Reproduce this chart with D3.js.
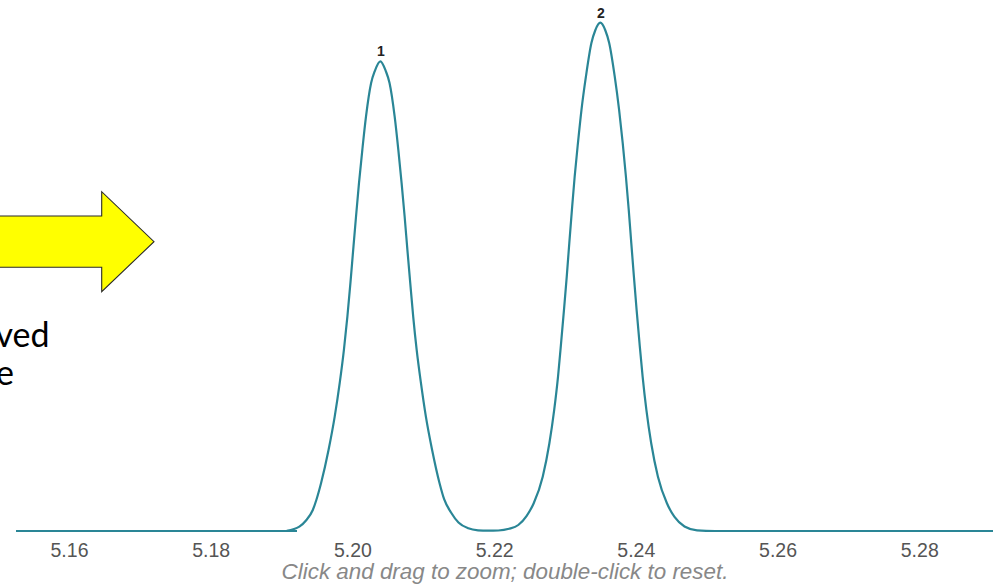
<!DOCTYPE html>
<html>
<head>
<meta charset="utf-8">
<script src="https://cdn.jsdelivr.net/npm/d3@7"></script>
<style>
  html, body { margin: 0; padding: 0; background: #fff; }
  svg { display: block; }
</style>
</head>
<body>
<svg id="chart" width="999" height="584"></svg>
<script>
// Flat baseline trace preceding the peaks (retention time, relative intensity %)
const baseX = [5.15252, 5.19218];
const baseY = [0, 0];

// Chromatogram trace: retention time (min) and relative intensity (%)
const traceX = [
  5.19073, 5.19251, 5.19345, 5.19441, 5.19493, 5.19558, 5.19663, 5.19750, 5.19821,
  5.19880, 5.19929, 5.19972, 5.20011, 5.20051, 5.20093, 5.20140, 5.20192, 5.20264,
  5.20316, 5.20394, 5.20471, 5.20524, 5.20596, 5.20648, 5.20694, 5.20737, 5.20776,
  5.20816, 5.20858, 5.20907, 5.20967, 5.21037, 5.21125, 5.21229, 5.21296, 5.21392,
  5.21497, 5.21636, 5.21773, 5.21914, 5.22059, 5.22210, 5.22341, 5.22457, 5.22559,
  5.22686, 5.22780, 5.22848, 5.22902, 5.22945, 5.22986, 5.23025, 5.23061, 5.23098,
  5.23137, 5.23183, 5.23233, 5.23296, 5.23373, 5.23428, 5.23499, 5.23569, 5.23624,
  5.23702, 5.23764, 5.23815, 5.23860, 5.23900, 5.23936, 5.23973, 5.24011, 5.24052,
  5.24096, 5.24149, 5.24217, 5.24312, 5.24439, 5.24546, 5.24687, 5.24864, 5.25118,
  5.29041
];
const traceY = [
  0.04, 0.85, 2.07, 4.13, 6.20, 9.45, 15.94, 22.50, 29.13,
  35.63, 42.19, 48.82, 55.31, 61.87, 68.50, 75.00, 81.56, 88.13,
  90.49, 92.38, 90.49, 88.13, 81.56, 75.00, 68.50, 61.87, 55.31,
  48.82, 42.19, 35.63, 29.13, 22.50, 15.94, 9.45, 6.20, 3.64,
  1.67, 0.53, 0.14, 0.06, 0.10, 0.43, 1.18, 2.95, 5.45,
  10.69, 17.26, 23.82, 30.37, 36.95, 43.50, 50.06, 56.63, 63.19,
  69.74, 76.32, 82.87, 89.43, 96.00, 98.52, 100.0, 98.52, 96.00,
  89.43, 82.87, 76.32, 69.74, 63.19, 56.63, 50.06, 43.50, 36.95,
  30.37, 23.82, 17.26, 10.69, 5.45, 2.76, 0.89, 0.14, 0.0,
  0.0
];

// Peak annotations
const peakLabels = ["1", "2"];
const peakX = [5.20394, 5.23499];
const peakY = [92.38, 100.0];

// Axis ticks
const tickValues = [5.16, 5.18, 5.20, 5.22, 5.24, 5.26, 5.28];

const caption = "Click and drag to zoom; double-click to reset.";
const sideLines = ["ved", "e"];

const svg = d3.select("#chart");

const x = d3.scaleLinear().domain([5.15252, 5.29041]).range([16, 993]);
const y = d3.scaleLinear().domain([0, 100]).range([531, 22.7]);

// Slide callout arrow
svg.append("path")
  .attr("d", "M-5,216 L101.7,216 L101.7,191.7 L154,241.7 L101.7,291.7 L101.7,267.3 L-5,267.3 Z")
  .attr("fill", "#ffff00")
  .attr("stroke", "#2b2b2b")
  .attr("stroke-width", 1.1)
  .attr("stroke-linejoin", "miter");

// Slide body text (runs off the left edge)
svg.append("g")
  .selectAll("text")
  .data(sideLines)
  .join("text")
  .attr("x", (d, i) => i === 0 ? 49.5 : 14)
  .attr("y", (d, i) => 346.7 + i * 38.3)
  .attr("text-anchor", "end")
  .attr("font-family", "Lato, 'Open Sans', sans-serif")
  .attr("font-size", 34)
  .attr("fill", "#000")
  .text(d => d);

// X axis (labels only)
const xAxis = d3.axisBottom(x)
  .tickValues(tickValues)
  .tickFormat(d3.format(".2f"))
  .tickSize(0)
  .tickPadding(12);

const gx = svg.append("g")
  .attr("transform", "translate(0,531)")
  .call(xAxis);
gx.select(".domain").remove();
gx.selectAll("text")
  .attr("font-family", "'Liberation Sans', Arial, sans-serif")
  .attr("font-size", 19.5)
  .attr("fill", "#555");

const line = d3.line()
  .x(d => x(d[0]))
  .y(d => y(d[1]))
  .curve(d3.curveMonotoneX);

const stroke = "#2a8696";

svg.append("path")
  .datum(d3.zip(baseX, baseY))
  .attr("fill", "none")
  .attr("stroke", stroke)
  .attr("stroke-width", 2.2)
  .attr("d", line);

svg.append("path")
  .datum(d3.zip(traceX, traceY))
  .attr("fill", "none")
  .attr("stroke", stroke)
  .attr("stroke-width", 2.2)
  .attr("stroke-linejoin", "round")
  .attr("d", line);

// Peak number labels
svg.append("g")
  .selectAll("text")
  .data(peakLabels)
  .join("text")
  .attr("x", (d, i) => x(peakX[i]) + 0.5)
  .attr("y", (d, i) => y(peakY[i]) - 5)
  .attr("text-anchor", "middle")
  .attr("font-family", "'Liberation Sans', Arial, sans-serif")
  .attr("font-weight", "bold")
  .attr("font-size", 14)
  .attr("fill", "#222")
  .text(d => d);

// Interaction hint
svg.append("text")
  .attr("x", 505)
  .attr("y", 579)
  .attr("text-anchor", "middle")
  .attr("font-family", "'Liberation Sans', Arial, sans-serif")
  .attr("font-style", "italic")
  .attr("font-size", 22.4)
  .attr("fill", "#888")
  .text(caption);
</script>
</body>
</html>
